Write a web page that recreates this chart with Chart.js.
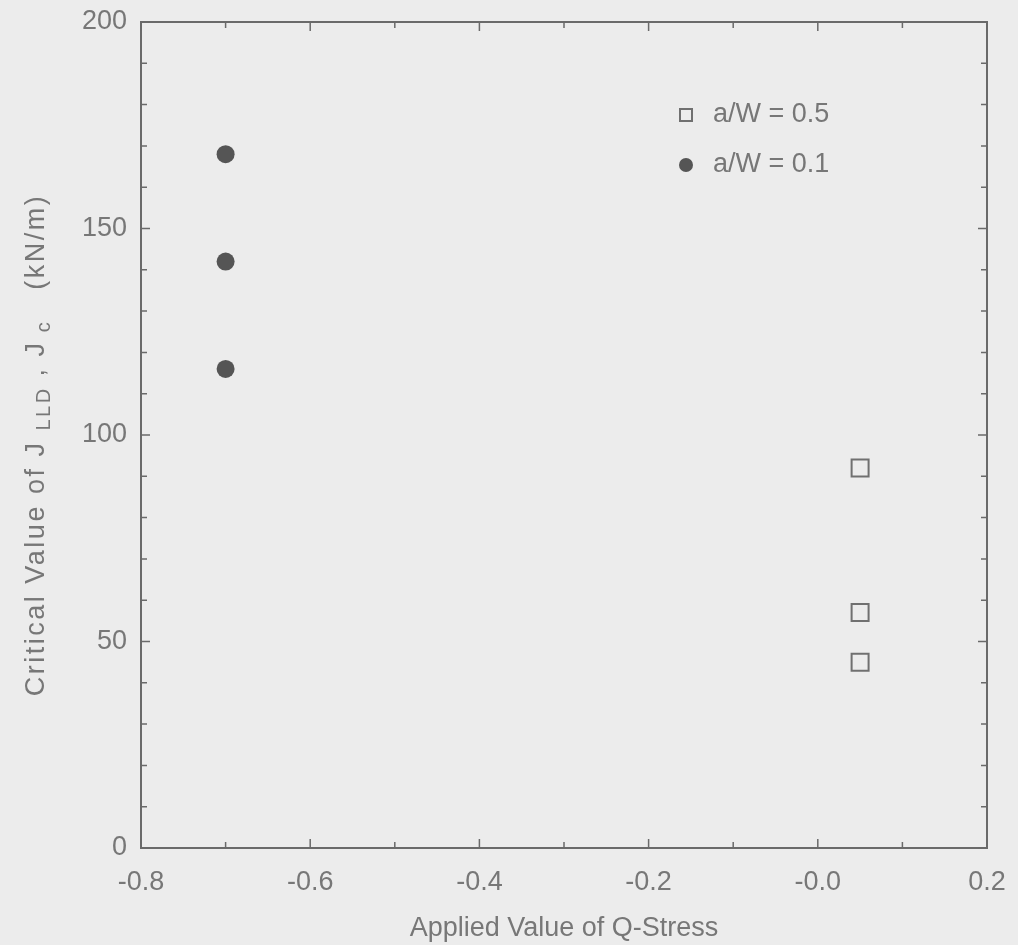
<!DOCTYPE html>
<html>
<head>
<meta charset="UTF-8">
<title>Critical J vs Applied Q-Stress</title>
<style>
  body { margin: 0; padding: 0; background: #ececec; }
  #wrap { width: 1018px; height: 945px; }
</style>
</head>
<body>
<div id="wrap"><canvas id="qChart" width="1018" height="945"></canvas></div>
<script src="https://cdn.jsdelivr.net/npm/chart.js"></script>
<script>
// values
const seriesNames = ['a/W = 0.5', 'a/W = 0.1'];
const qHalf = [0.05, 0.05, 0.05];       // a/W = 0.5, open squares
const jHalf = [92, 57, 45];
const qTenth = [-0.70, -0.70, -0.70];   // a/W = 0.1, filled dots
const jTenth = [168, 142, 116];

const xTickVals = [-0.8, -0.6, -0.4, -0.2, 0, 0.2];
const xTickLabels = ['-0.8', '-0.6', '-0.4', '-0.2', '-0.0', '0.2'];
const xMinorVals = [-0.7, -0.5, -0.3, -0.1, 0.1];
const yTickVals = [0, 50, 100, 150, 200];
const yTickLabels = ['0', '50', '100', '150', '200'];
const yMinorVals = [10, 20, 30, 40, 60, 70, 80, 90, 110, 120, 130, 140, 160, 170, 180, 190];

const inkText = '#777777';
const inkAxis = '#6a6a6a';
const fontFam = '"Liberation Sans", Arial, sans-serif';

// frame with inward ticks on all four sides
const frameTicks = {
  id: 'frameTicks',
  afterDraw(chart) {
    const { ctx, chartArea: a, scales: { x, y } } = chart;
    ctx.save();
    ctx.strokeStyle = inkAxis;
    ctx.lineWidth = 2;
    ctx.strokeRect(a.left, a.top, a.right - a.left, a.bottom - a.top);
    ctx.lineWidth = 1.5;
    ctx.beginPath();
    const xt = (v, len) => {
      const px = x.getPixelForValue(v);
      ctx.moveTo(px, a.bottom); ctx.lineTo(px, a.bottom - len);
      ctx.moveTo(px, a.top); ctx.lineTo(px, a.top + len);
    };
    const yt = (v, len) => {
      const py = y.getPixelForValue(v);
      ctx.moveTo(a.left, py); ctx.lineTo(a.left + len, py);
      ctx.moveTo(a.right, py); ctx.lineTo(a.right - len, py);
    };
    xTickVals.forEach(v => xt(v, 9));
    xMinorVals.forEach(v => xt(v, 6));
    yTickVals.forEach(v => yt(v, 9));
    yMinorVals.forEach(v => yt(v, 6));
    ctx.stroke();
    ctx.restore();
  }
};

// legend in the upper right of the plot, like the original
const boxLegend = {
  id: 'boxLegend',
  afterDraw(chart) {
    const { ctx, chartArea: a } = chart;
    const mx = a.left + 545, tx = a.left + 572;
    const rows = [a.top + 93, a.top + 143];
    ctx.save();
    ctx.font = '27px ' + fontFam;
    ctx.textBaseline = 'middle';
    // square marker
    ctx.strokeStyle = '#707070';
    ctx.lineWidth = 2;
    ctx.strokeRect(mx - 6, rows[0] - 6, 12, 12);
    // dot marker
    ctx.beginPath();
    ctx.fillStyle = '#555555';
    ctx.arc(mx, rows[1], 7, 0, Math.PI * 2);
    ctx.fill();
    ctx.fillStyle = inkText;
    ctx.fillText(seriesNames[0], tx, rows[0]);
    ctx.fillText(seriesNames[1], tx, rows[1]);
    ctx.restore();
  }
};

// rotated y title with subscripts
const yTitle = {
  id: 'yTitle',
  afterDraw(chart) {
    const { ctx } = chart;
    const big = '27px ' + fontFam, small = '20px ' + fontFam;
    const parts = [
      ['Critical Value of J ', big, 0],
      ['LLD', small, 7],
      [' , J', big, 0],
      [' c', small, 7],
      ['   (kN/m)', big, 0]
    ];
    ctx.save();
    ctx.letterSpacing = '2.5px';
    let total = 0;
    parts.forEach(p => { ctx.font = p[1]; total += ctx.measureText(p[0]).width; });
    ctx.translate(37, 445);
    ctx.rotate(-Math.PI / 2);
    ctx.fillStyle = inkText;
    ctx.textBaseline = 'middle';
    let cx = -total / 2;
    parts.forEach(p => {
      ctx.font = p[1];
      ctx.fillText(p[0], cx, p[2]);
      cx += ctx.measureText(p[0]).width;
    });
    ctx.restore();
  }
};

const ctx = document.getElementById('qChart').getContext('2d');
const chart = new Chart(ctx, {
  type: 'scatter',
  data: {
    datasets: [
      {
        label: seriesNames[0],
        data: qHalf.map((q, i) => ({ x: q, y: jHalf[i] })),
        pointStyle: 'rect',
        pointRadius: 12,
        pointBorderWidth: 2,
        borderColor: '#707070',
        backgroundColor: 'rgba(0,0,0,0)'
      },
      {
        label: seriesNames[1],
        data: qTenth.map((q, i) => ({ x: q, y: jTenth[i] })),
        pointStyle: 'circle',
        pointRadius: 9,
        pointBorderWidth: 0,
        borderColor: '#555555',
        backgroundColor: '#555555'
      }
    ]
  },
  options: {
    responsive: false,
    animation: false,
    layout: { padding: { top: 22, right: 31, left: 0, bottom: 0 } },
    plugins: {
      legend: { display: false },
      tooltip: { enabled: false }
    },
    scales: {
      x: {
        type: 'linear',
        min: -0.8,
        max: 0.2,
        grid: { display: false, drawTicks: false },
        border: { display: false },
        afterBuildTicks: s => { s.ticks = xTickVals.map(v => ({ value: v })); },
        afterFit: s => { s.height = 97; s.paddingLeft = 0; s.paddingRight = 0; },
        ticks: {
          padding: 18,
          color: inkText,
          font: { size: 27, family: fontFam },
          callback: (v, i) => xTickLabels[i]
        },
        title: {
          display: true,
          text: 'Applied Value of Q-Stress',
          color: inkText,
          font: { size: 27, family: fontFam },
          padding: { top: 0, bottom: 0 }
        }
      },
      y: {
        min: 0,
        max: 200,
        grid: { display: false, drawTicks: false },
        border: { display: false },
        afterBuildTicks: s => { s.ticks = yTickVals.map(v => ({ value: v })); },
        afterFit: s => { s.width = 141; s.paddingTop = 0; s.paddingBottom = 0; },
        ticks: {
          padding: 14,
          color: inkText,
          font: { size: 27, family: fontFam },
          callback: (v, i) => yTickLabels[i]
        }
      }
    }
  },
  plugins: [frameTicks, boxLegend, yTitle]
});
</script>
</body>
</html>
